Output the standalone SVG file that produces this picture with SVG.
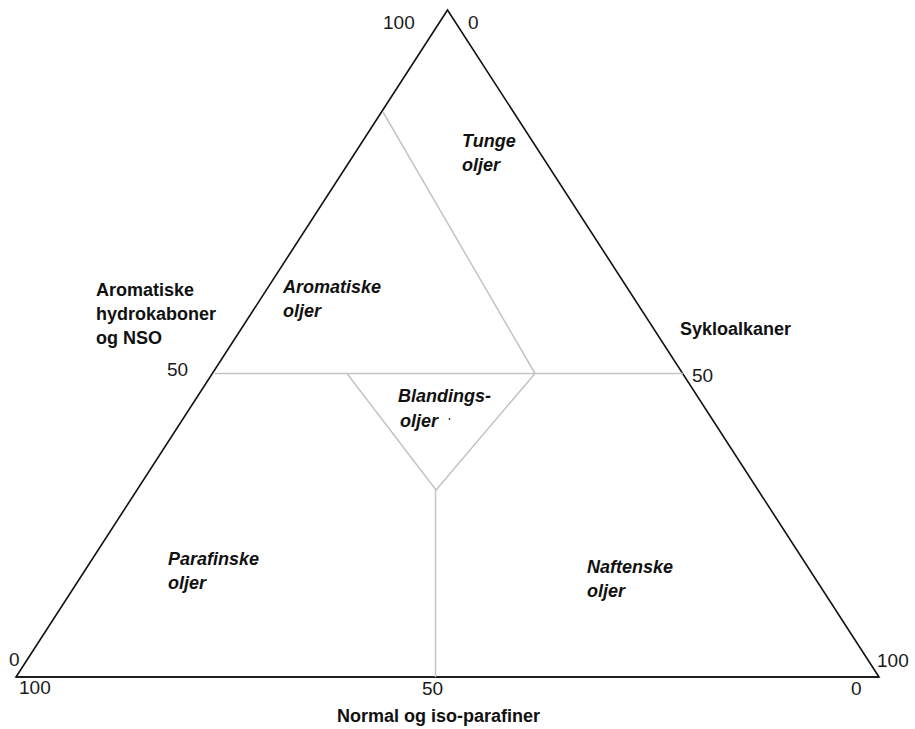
<svg xmlns="http://www.w3.org/2000/svg" width="915" height="729" viewBox="0 0 915 729">
<style>
.num{font-family:"Liberation Sans",Arial,sans-serif;font-size:19px;fill:#1a1a1a}
.lbl{font-family:"Liberation Sans",Arial,sans-serif;font-size:18px;font-weight:bold;fill:#111}
.fld{font-family:"Liberation Sans",Arial,sans-serif;font-size:18px;font-weight:bold;font-style:italic;fill:#111}
.frame{fill:none;stroke:#111;stroke-width:1.6;stroke-linejoin:miter}
.div{fill:none;stroke:#c4c4c4;stroke-width:1.5}
</style>
<rect width="915" height="729" fill="#fff"/>
<g id="connectors">
<polygon class="frame" points="447.5,10 16,677 879,677"/>
<line class="frame" x1="16" y1="677" x2="879" y2="677" stroke-width="2"/>
<line class="div" x1="215" y1="373.5" x2="683" y2="373.5"/>
<line class="div" x1="383" y1="112" x2="535" y2="373.5"/>
<polyline class="div" points="347,373.5 436,490 535,373.5"/>
<line class="div" x1="435.5" y1="490" x2="435.5" y2="677"/>
</g>
<g id="axis-labels">
<text class="num" x="383" y="29">100</text>
<text class="num" x="468" y="29">0</text>
<text class="num" x="167" y="376">50</text>
<text class="num" x="692" y="382">50</text>
<text class="num" x="9" y="666">0</text>
<text class="num" x="19" y="694">100</text>
<text class="num" x="877" y="667">100</text>
<text class="num" x="851" y="695">0</text>
<text class="num" x="422" y="695">50</text>
</g>
<g id="node-aromatiske-hydrokaboner">
<text class="lbl" x="96" y="296">Aromatiske</text>
<text class="lbl" x="96" y="320">hydrokaboner</text>
<text class="lbl" x="96" y="344">og NSO</text>
</g>
<g id="node-sykloalkaner">
<text class="lbl" x="680" y="335">Sykloalkaner</text>
</g>
<g id="node-normal-iso-parafiner">
<text class="lbl" x="337" y="722">Normal og iso-parafiner</text>
</g>
<g id="node-tunge-oljer">
<text class="fld" x="462" y="147">Tunge</text>
<text class="fld" x="462" y="171">oljer</text>
</g>
<g id="node-aromatiske-oljer">
<text class="fld" x="283" y="293">Aromatiske</text>
<text class="fld" x="283" y="317">oljer</text>
</g>
<g id="node-blandings-oljer">
<text class="fld" x="398" y="402">Blandings-</text>
<text class="fld" x="400" y="427">oljer</text>
<circle cx="449.5" cy="419" r="0.9" fill="#333"/>
</g>
<g id="node-parafinske-oljer">
<text class="fld" x="168" y="565">Parafinske</text>
<text class="fld" x="168" y="589">oljer</text>
</g>
<g id="node-naftenske-oljer">
<text class="fld" x="587" y="573">Naftenske</text>
<text class="fld" x="587" y="597">oljer</text>
</g>
</svg>
